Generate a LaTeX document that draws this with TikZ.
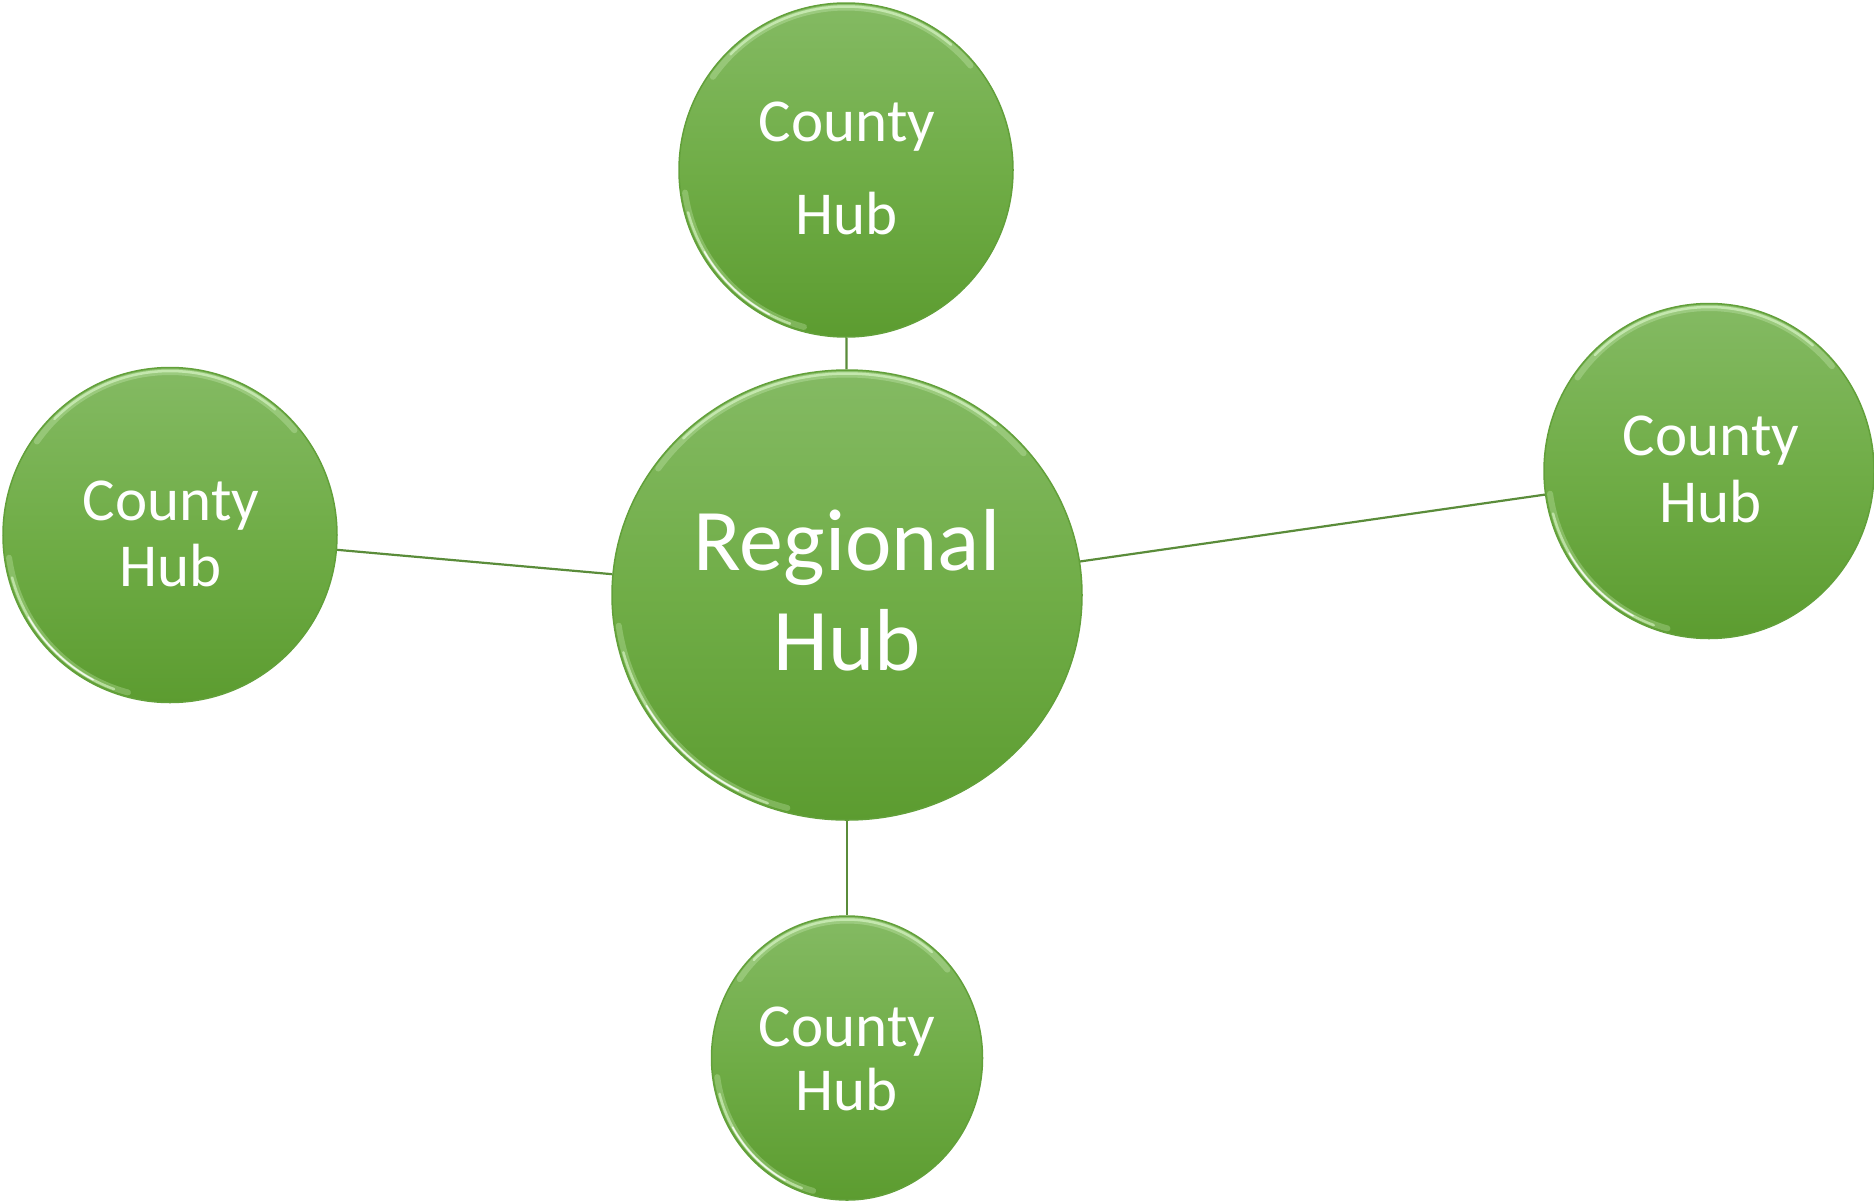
\documentclass[tikz,border=0pt]{standalone}
\usepackage{fontspec}
\setmainfont{Carlito}
\usetikzlibrary{shapes.geometric}
\definecolor{hubtop}{HTML}{84BA63}
\definecolor{hubmid}{HTML}{70AD47}
\definecolor{hubbot}{HTML}{5C9C30}
\definecolor{hubedge}{HTML}{62A03A}
\definecolor{linkcol}{HTML}{5A8C3A}
\definecolor{glosscol}{HTML}{E6FFD6}
\pgfdeclarelayer{background}
\pgfsetlayers{background,main}
\tikzset{
  hub/.style={ellipse, draw=hubedge, line width=1.5pt, top color=hubtop, bottom color=hubbot, middle color=hubmid, inner sep=0pt},
  link/.style={draw=linkcol, line width=2.2pt},
  bigtxt/.style={anchor=base, text=white, inner sep=0pt, font=\fontsize{88}{100}\selectfont},
  smalltxt/.style={anchor=base, text=white, inner sep=0pt, font=\fontsize{61}{66}\selectfont},
  glossA/.style={glosscol, opacity=0.25, line width=6pt, line cap=round},
  glossB/.style={glosscol, opacity=0.55, line width=2.5pt, line cap=round},
  glossC/.style={white, opacity=0.8, line width=1.5pt, line cap=round},
}
\newcommand\hubgloss[4]{%
  \begin{scope}[shift={(#1,#2)}]
    \draw[glossA] (-145:{#3-4.5} and {#4-4.5}) arc[start angle=-145,end angle=-40,x radius={#3-4.5},y radius={#4-4.5}];
    \draw[glossB] (-135:{#3-3.5} and {#4-3.5}) arc[start angle=-135,end angle=-50,x radius={#3-3.5},y radius={#4-3.5}];
    \draw[glossA] (105:{#3-4.5} and {#4-4.5}) arc[start angle=105,end angle=172,x radius={#3-4.5},y radius={#4-4.5}];
    \draw[glossB] (110:{#3-3.5} and {#4-3.5}) arc[start angle=110,end angle=165,x radius={#3-3.5},y radius={#4-3.5}];
    \draw[glossC] (118:{#3-3.5} and {#4-3.5}) arc[start angle=118,end angle=150,x radius={#3-3.5},y radius={#4-3.5}];
  \end{scope}}
\begin{document}
\begin{tikzpicture}[x=1pt,y=-1pt]
\useasboundingbox (0,0) rectangle (1874,1200);
% circles
\node[hub, minimum width=470pt, minimum height=450pt] (reg) at (847,595) {};
\node[hub, minimum width=334pt, minimum height=334pt] (top) at (846,170) {};
\node[hub, minimum width=334pt, minimum height=335pt] (left) at (170,535) {};
\node[hub, minimum width=330pt, minimum height=335pt] (right) at (1709,471) {};
\node[hub, minimum width=271pt, minimum height=284pt] (bot) at (847,1058) {};
% gloss
\hubgloss{847}{595}{235}{225}
\hubgloss{846}{170}{167}{167}
\hubgloss{170}{535}{167}{167.5}
\hubgloss{1709}{471}{165}{167.5}
\hubgloss{847}{1058}{135.5}{142}
% connectors
\begin{pgfonlayer}{background}
\draw[link] (reg) -- (top);
\draw[link] (reg) -- (left);
\draw[link] (reg) -- (right);
\draw[link] (reg) -- (bot);
\end{pgfonlayer}
% texts
\node[bigtxt] (regA) at (847,570) {Regional};
\node[bigtxt] (regB) at (847,670) {Hub};
\node[smalltxt] (topA) at (847,141) {County};
\node[smalltxt] (topB) at (847,234) {Hub};
\node[smalltxt] (leftA) at (171,520) {County};
\node[smalltxt] (leftB) at (171,586) {Hub};
\node[smalltxt] (rightA) at (1711,455) {County};
\node[smalltxt] (rightB) at (1711,522) {Hub};
\node[smalltxt] (botA) at (847,1046) {County};
\node[smalltxt] (botB) at (847,1110) {Hub};
\end{tikzpicture}
\end{document}
